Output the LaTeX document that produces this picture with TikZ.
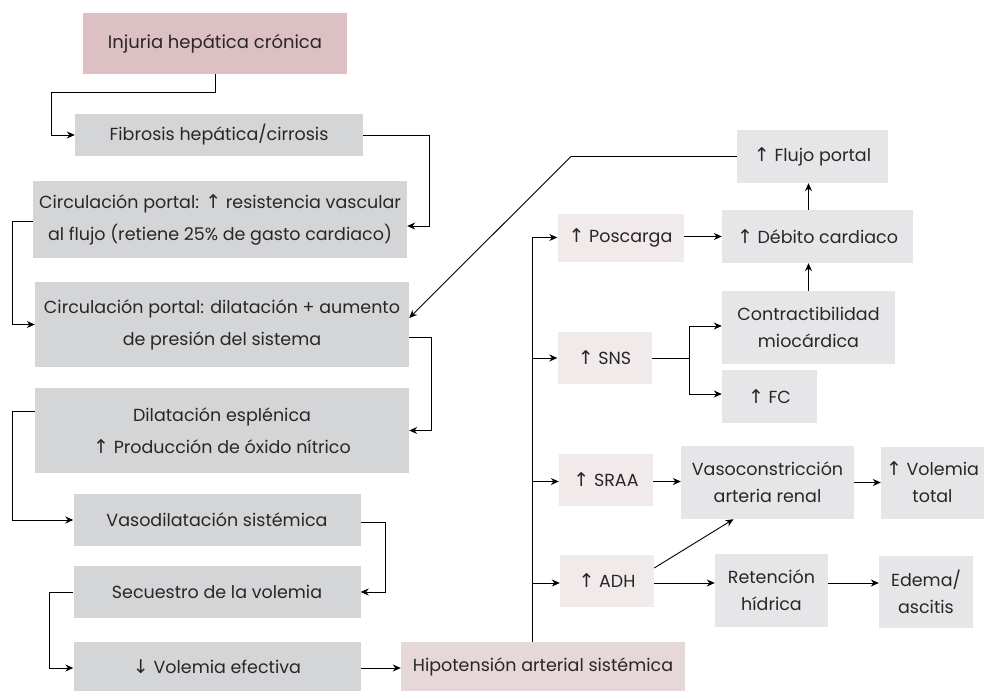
\documentclass[tikz,border=0pt]{standalone}
\usepackage{fontspec}
\setmainfont{Poppins}
\newfontfamily\arrowfont{DejaVu Sans}
\usetikzlibrary{arrows.meta}

\newcommand{\uparr}{{\arrowfont\fontsize{19}{19}\selectfont ↑}}
\newcommand{\dnarr}{{\arrowfont\fontsize{19}{19}\selectfont ↓}}

\definecolor{injpink}{HTML}{DCC0C4}
\definecolor{hippink}{HTML}{E6D7D9}
\definecolor{palepink}{HTML}{F0EAEA}
\definecolor{leftgray}{HTML}{D4D5D7}
\definecolor{rightgray}{HTML}{E6E6E8}
\definecolor{inktext}{HTML}{2A2627}

\tikzset{
  box/.style={inner sep=0pt, align=center, text=inktext,
    font=\fontsize{17.5}{32}\selectfont},
  leftbox/.style={box, fill=leftgray},
  rightbox/.style={box, fill=rightgray, font=\fontsize{17.5}{27}\selectfont},
  palebox/.style={box, fill=palepink},
  link/.style={-{Stealth[length=8pt,width=7pt]}, line width=0.9pt},
  plain/.style={line width=0.9pt}
}

\begin{document}
\begin{tikzpicture}[x=1pt,y=-1pt]
  \useasboundingbox (0,0) rectangle (986,691);

  % left column
  \node [box, fill=injpink, minimum width=264, minimum height=61,
    font=\fontsize{18}{20}\selectfont] (inj) at (215,43.5) {Injuria hepática crónica};
  \node [leftbox, minimum width=288, minimum height=42] (fib) at (219,135) {Fibrosis hepática/cirrosis};
  \node [leftbox, minimum width=374, minimum height=77] (res) at (220,219.5)
    {Circulación portal: \uparr{} resistencia vascular\\al flujo (retiene 25\% de gasto cardiaco)};
  \node [leftbox, minimum width=374, minimum height=85] (dil) at (222,324.5)
    {Circulación portal: dilatación + aumento\\de presión del sistema};
  \node [leftbox, minimum width=374, minimum height=85] (esp) at (222,430.5)
    {Dilatación esplénica\\\uparr{} Producción de óxido nítrico};
  \node [leftbox, minimum width=287, minimum height=52] (vas) at (217,520) {Vasodilatación sistémica};
  \node [leftbox, minimum width=287, minimum height=52] (sec) at (217,592) {Secuestro de la volemia};
  \node [leftbox, minimum width=287, minimum height=49] (vol) at (217,666.5) {\dnarr{} Volemia efectiva};
  \node [box, fill=hippink, minimum width=284, minimum height=49] (hip) at (543,666.5) {Hipotensión arterial sistémica};

  % right side
  \node [rightbox, minimum width=151, minimum height=53] (flu) at (812.5,156.5) {\uparr{} Flujo portal};
  \node [palebox, minimum width=126, minimum height=48] (pos) at (620.5,237.5) {\uparr{} Poscarga};
  \node [rightbox, minimum width=191, minimum height=53] (deb) at (817.5,236.5) {\uparr{} Débito cardiaco};
  \node [rightbox, minimum width=173, minimum height=73] (con) at (808.5,327.5) {Contractibilidad\\miocárdica};
  \node [palebox, minimum width=94, minimum height=52] (sns) at (604.5,358) {\uparr{} SNS};
  \node [rightbox, minimum width=95, minimum height=53] (fc) at (769.5,396.5) {\uparr{} FC};
  \node [palebox, minimum width=94, minimum height=52] (sra) at (606,479.5) {\uparr{} SRAA};
  \node [rightbox, minimum width=173, minimum height=73] (vsc) at (767.5,482.5) {Vasoconstricción\\arteria renal};
  \node [rightbox, minimum width=103, minimum height=72] (vtt) at (932.5,482.5) {\uparr{} Volemia\\total};
  \node [palebox, minimum width=94, minimum height=52] (adh) at (607,580.5) {\uparr{} ADH};
  \node [rightbox, minimum width=113, minimum height=73] (ret) at (771.5,590.5) {Retención\\hídrica};
  \node [rightbox, minimum width=94, minimum height=72] (ede) at (926,592) {Edema/\\ascitis};

  % left chain
  \draw [link] (inj.south) |- (51,92) |- (fib.west);
  \draw [link] (fib.east) -| (429,226) -- ([yshift=-6.5pt]res.east);
  \draw [link] ([yshift=-1.5pt]res.west) -| (12,324.5) -- (dil.west);
  \draw [link] ([yshift=-13pt]dil.east) -| (431,430.5) -- (esp.east);
  \draw [link] ([yshift=19pt]esp.west) -| (12,520) -- (vas.west);
  \draw [link] ([yshift=-2pt]vas.east) -| (385,592) -- (sec.east);
  \draw [link] (sec.west) -| (49,668) -- ([yshift=-1.5pt]vol.west);
  \draw [link] ([yshift=-1.5pt]vol.east) -- ([yshift=-1.5pt]hip.west);

  % trunk
  \coordinate (trk) at (532,237.5);
  \draw [plain] ([xshift=-11pt]hip.north) -- (trk);
  \draw [link] (trk) -- (pos.west);
  \draw [link] (trk |- sns.west) -- (sns.west);
  \draw [link] ([yshift=-2pt]trk |- sra.west) -- ([yshift=-2pt]sra.west);
  \draw [link] ([yshift=-2.5pt]trk |- adh.west) -- ([yshift=-2.5pt]adh.west);

  % right chain
  \draw [link] ([yshift=1pt]pos.east) -- ([yshift=1pt]pos.east -| deb.west);
  \draw [link] (con.north) -- (con.north |- deb.south);
  \draw [link] (con.north |- deb.north) -- (con.north |- flu.south);
  \draw [plain] (sns.east) -- (689,358);
  \draw [link] (689,358) |- ([yshift=1.5pt]con.west);
  \draw [link] (689,358) |- ([yshift=2.5pt]fc.west);
  \draw [link] (flu.west) -- (571,156.5) -- ([yshift=6.5pt]dil.east);
  \draw [link] ([yshift=-2pt]sra.east) -- ([yshift=-2pt]sra.east -| vsc.west);
  \draw [link] (vsc.east) -- (vsc.east -| vtt.west);
  \draw [link] ([yshift=12.5pt]adh.east) -- ([xshift=-34pt]vsc.south);
  \draw [link] ([yshift=-2.5pt]adh.east) -- ([yshift=-2.5pt]adh.east -| ret.west);
  \draw [link] ([yshift=7.5pt]ret.east) -- ([yshift=7.5pt]ret.east -| ede.west);
\end{tikzpicture}
\end{document}
